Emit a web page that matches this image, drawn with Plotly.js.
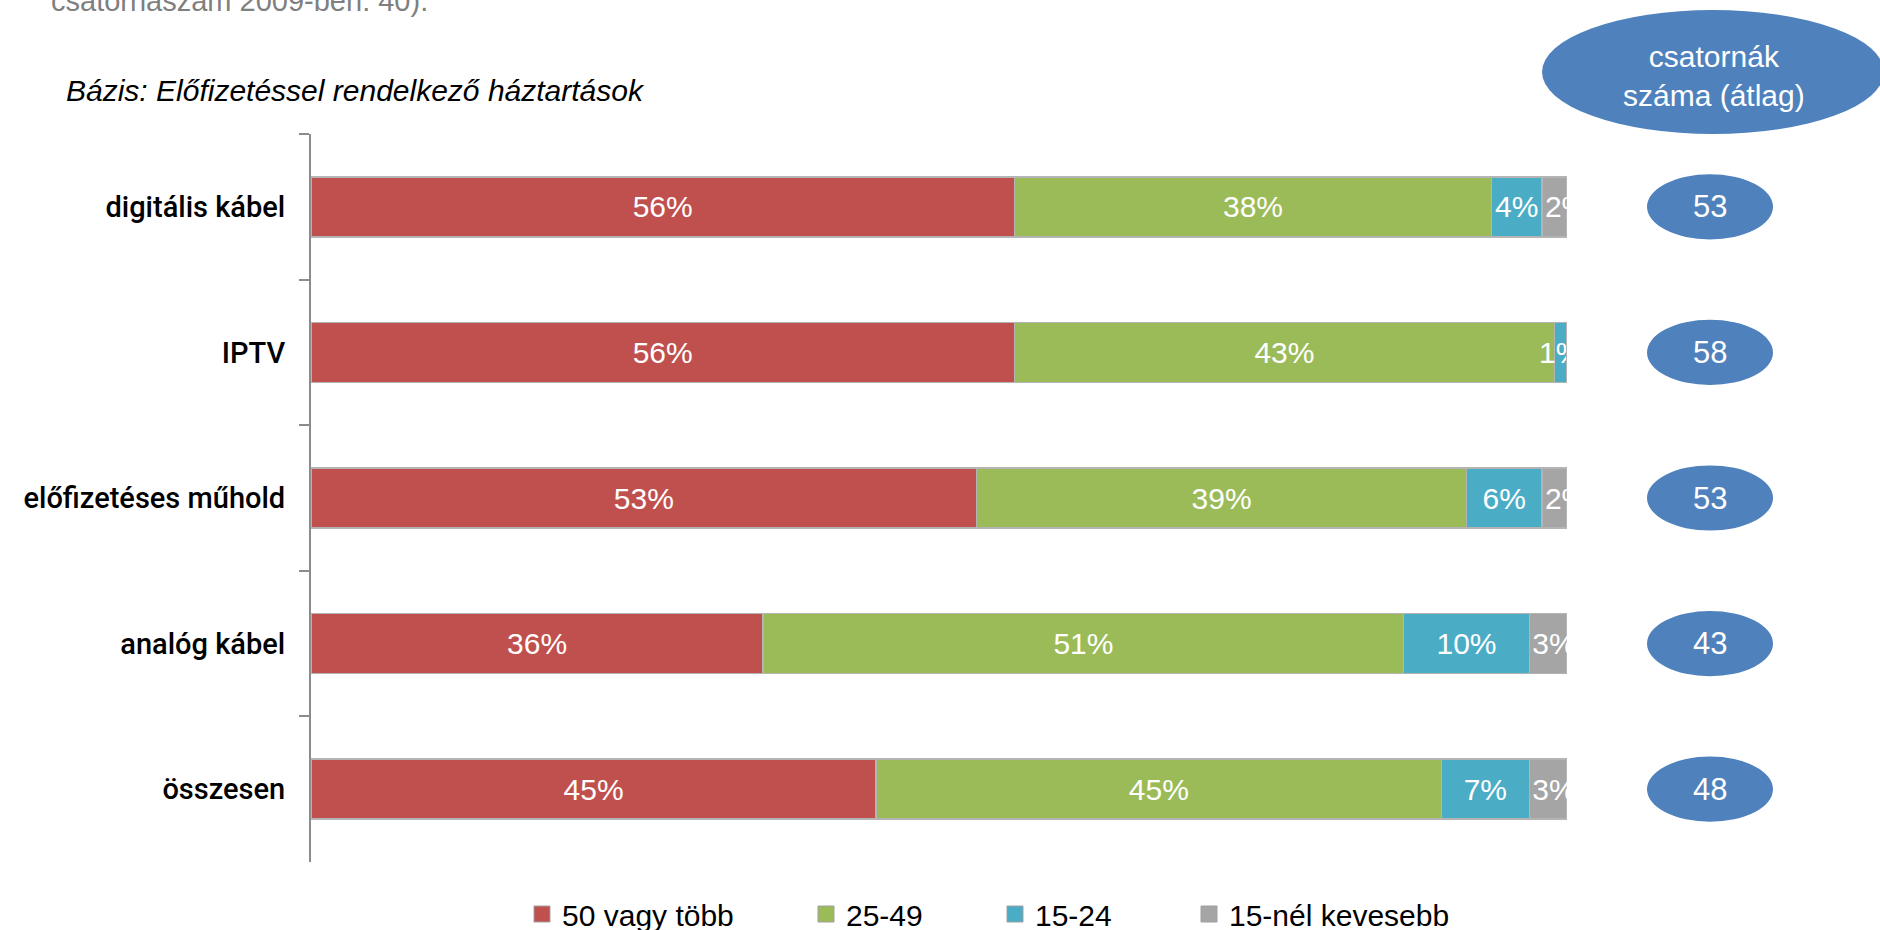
<!DOCTYPE html>
<html>
<head>
<meta charset="utf-8">
<script src="https://cdn.plot.ly/plotly-3.0.1.min.js"></script>
<style>
  html, body { margin: 0; padding: 0; background: #ffffff; }
  #chart { width: 1880px; height: 930px; }
</style>
</head>
<body>
<div id="chart"></div>
<script>
// ---- data ----
const categories = ['digitális kábel', 'IPTV', 'előfizetéses műhold', 'analóg kábel', 'összesen'];
const seriesNames = ['50 vagy több', '25-49', '15-24', '15-nél kevesebb'];
const s50plus   = [56, 56, 53, 36, 45];
const s25to49   = [38, 43, 39, 51, 45];
const s15to24   = [4, 1, 6, 10, 7];
const sBelow15  = [2, 0, 2, 3, 3];
const avgChannels = [53, 58, 53, 43, 48];
const headerText = 'csatornák<br>száma (átlag)';
const baseText = 'Bázis: Előfizetéssel rendelkező háztartások';
const topText = 'csatornaszám 2009-ben: 40).';

// ---- styling ----
const colors = ['#C0504D', '#9BBB59', '#4BACC6', '#A5A5A5'];
const textAnchors = ['middle', 'middle', 'middle', 'start'];
const ellipseColor = '#4F81BD';
const FONT = '"Liberation Sans", Arial, sans-serif';

const allSeries = [s50plus, s25to49, s15to24, sBelow15];

const traces = allSeries.map((vals, i) => ({
  type: 'bar',
  orientation: 'h',
  name: seriesNames[i],
  y: categories,
  x: vals,
  text: vals.map(v => v ? v + '%' : ''),
  textposition: 'inside',
  insidetextanchor: textAnchors[i],
  textangle: 0,
  constraintext: 'none',
  textfont: { family: FONT, size: 30, color: '#ffffff' },
  marker: { color: colors[i], line: { color: '#b4b4b4', width: 1.5 } },
  showlegend: false,
  hoverinfo: 'skip'
}));

// plot area in pixels
const L = 311, R = 1567, T = 134, B = 862;
const W = 1880, H = 930;
const pxX = px => (px - L) / (R - L);
const pxY = py => (B - py) / (B - T);

// legend entries, each in its own legend so they can be spaced like the reference
const legendSymbolCenters = [541, 825, 1014, 1208];
const legendIds = ['legend', 'legend2', 'legend3', 'legend4'];
seriesNames.forEach((n, i) => {
  traces.push({
    type: 'scatter',
    mode: 'markers',
    name: n,
    x: [null],
    y: [null],
    legend: legendIds[i],
    marker: { symbol: 'square', size: 18, color: colors[i], line: { color: '#a0a0a0', width: 1 } },
    showlegend: true,
    hoverinfo: 'skip'
  });
});

const shapes = [];
const annotations = [];

// header ellipse
shapes.push({
  type: 'circle', xref: 'paper', yref: 'paper', layer: 'above',
  x0: pxX(1542), x1: pxX(1884), y0: pxY(134), y1: pxY(10),
  fillcolor: ellipseColor, line: { width: 0 }
});
annotations.push({
  xref: 'paper', yref: 'paper', x: pxX(1714), y: pxY(76),
  text: headerText, showarrow: false, xanchor: 'center', yanchor: 'middle',
  font: { family: FONT, size: 30, color: '#ffffff' }, align: 'center'
});

// per-category ellipses with average channel count
categories.forEach((c, i) => {
  shapes.push({
    type: 'circle', xref: 'paper', yref: 'y', layer: 'above',
    x0: pxX(1647), x1: pxX(1773), y0: i - 0.224, y1: i + 0.224,
    fillcolor: ellipseColor, line: { width: 0 }
  });
  annotations.push({
    xref: 'paper', yref: 'y', x: pxX(1710), y: c,
    text: String(avgChannels[i]), showarrow: false, xanchor: 'center', yanchor: 'middle',
    font: { family: FONT, size: 31, color: '#ffffff' }
  });
});

// base note
annotations.push({
  xref: 'paper', yref: 'paper', x: pxX(64), y: pxY(90),
  text: '<i>' + baseText + '</i>', showarrow: false, xanchor: 'left', yanchor: 'middle',
  font: { family: FONT, size: 30, color: '#000000' }
});
// clipped top line
annotations.push({
  xref: 'paper', yref: 'paper', x: pxX(49), y: pxY(1),
  text: topText, showarrow: false, xanchor: 'left', yanchor: 'middle',
  font: { family: FONT, size: 29, color: '#7f7f7f' }
});

const layout = {
  width: W, height: H,
  paper_bgcolor: '#ffffff', plot_bgcolor: '#ffffff',
  margin: { l: L, r: W - R, t: T, b: H - B, pad: 0, autoexpand: false },
  barmode: 'stack',
  bargap: 0.588,
  font: { family: FONT, size: 30, color: '#000000' },
  xaxis: { range: [0, 100], visible: false, fixedrange: true },
  yaxis: {
    type: 'category', autorange: 'reversed',
    showline: true, linecolor: '#8c8c8c', linewidth: 2,
    ticks: 'outside', ticklen: 10, tickwidth: 2, tickcolor: '#8c8c8c',
    tickson: 'boundaries', showgrid: false, zeroline: false,
    ticklabelstandoff: 18,
    tickfont: { family: 'Roboto, "Liberation Sans", sans-serif', size: 29, weight: 500, color: '#000000' },
    fixedrange: true
  },
  showlegend: true,
  uniformtext: { mode: 'show', minsize: 30 },
  shapes: shapes,
  annotations: annotations,
  hovermode: false
};

legendIds.forEach((id, i) => {
  layout[id] = {
    orientation: 'h', x: pxX(legendSymbolCenters[i] - 19), xanchor: 'left',
    y: pxY(914), yanchor: 'middle',
    font: { family: FONT, size: 30, color: '#000000' },
    itemsizing: 'trace', bgcolor: 'rgba(0,0,0,0)', borderwidth: 0
  };
});

Plotly.newPlot('chart', traces, layout, { displayModeBar: false, staticPlot: true });
</script>
</body>
</html>
